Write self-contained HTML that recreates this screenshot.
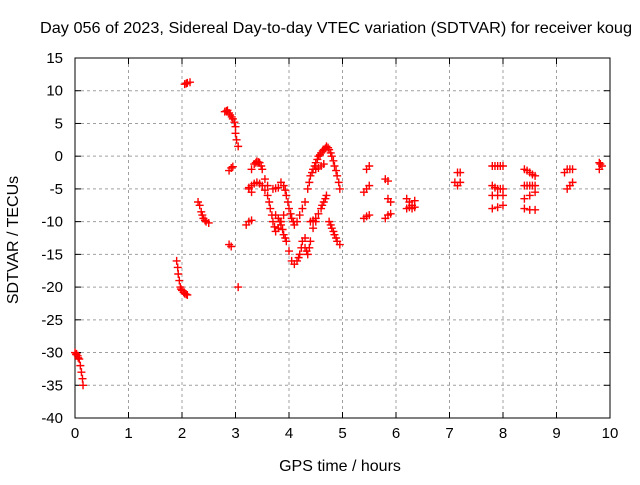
<!DOCTYPE html>
<html><head><meta charset="utf-8"><style>
body{margin:0;background:#fff}
svg text{font-family:"Liberation Sans",sans-serif;font-size:15px;fill:#000}
svg text.ttl{font-size:16px}
</style></head><body>
<svg id="chart" width="640" height="480" xmlns="http://www.w3.org/2000/svg">
<text class="ttl" x="40" y="33" textLength="592" lengthAdjust="spacingAndGlyphs">Day 056 of 2023, Sidereal Day-to-day VTEC variation (SDTVAR) for receiver koug</text>
<g id="grid"></g>
<g id="axes"></g>
<g id="pts"></g>
<text class="ttl" x="340" y="471" text-anchor="middle">GPS time / hours</text>
<text class="ttl" transform="translate(18,240) rotate(-90)" text-anchor="middle">SDTVAR / TECUs</text>
</svg>
<script>
const xTicks=[0,1,2,3,4,5,6,7,8,9,10];
const yTicks=[15,10,5,0,-5,-10,-15,-20,-25,-30,-35,-40];
const xs=[0,0.02,0.05,0.08,0.1,0.12,0.14,0.15,0.03,0.06,
1.9,1.92,1.93,1.95,1.97,2.0,2.05,2.1,1.98,2.03,2.08,
2.05,2.1,2.15,2.08,
2.3,2.33,2.36,2.4,2.45,2.5,2.38,2.43,
2.8,2.85,2.9,2.95,3.0,3.0,3.02,3.05,2.83,2.88,2.93,2.98,
2.88,2.92,2.95,2.88,2.92,3.05,
3.3,3.35,3.4,3.45,3.5,3.55,3.6,3.38,3.43,3.48,
3.25,3.3,3.4,3.5,3.6,3.65,3.7,3.75,3.8,3.85,3.9,3.35,3.45,3.55,3.63,3.68,3.73,
3.7,3.8,3.85,3.9,3.95,4.0,4.05,4.1,4.15,4.2,4.3,3.75,3.93,3.98,4.03,4.08,4.25,
3.75,3.8,3.85,3.9,3.95,4.05,4.1,4.15,4.2,4.25,4.3,3.83,3.88,3.93,4.0,4.18,4.23,
4.35,4.4,4.45,4.5,4.55,4.6,4.65,4.7,4.75,4.8,4.85,4.9,4.95,4.38,4.43,4.48,4.53,4.58,4.63,4.68,4.73,4.78,4.83,4.88,4.93,
4.4,4.5,4.6,4.65,4.7,4.5,4.6,4.45,4.55,4.62,4.68,4.55,4.65,
4.75,4.8,4.85,4.9,4.95,4.78,4.83,4.88,
4.3,4.35,4.4,4.45,4.5,4.33,4.38,
3.2,3.25,3.3,3.3,3.25,
5.4,5.45,5.5,5.4,5.45,5.5,5.45,5.5,
5.8,5.85,5.85,5.9,5.8,5.85,5.9,
6.2,6.25,6.3,6.2,6.3,6.35,6.35,6.25,
7.15,7.2,7.1,7.15,7.2,
7.8,7.9,8.0,7.8,7.9,8.0,7.8,7.9,8.0,7.8,7.9,8.0,7.85,7.95,7.85,7.95,
8.4,8.5,8.6,8.4,8.5,8.6,8.4,8.5,8.6,8.4,8.5,8.6,8.45,8.55,8.45,8.55,
9.15,9.2,9.3,9.2,9.25,9.3,9.25,
9.8,9.8,9.85,9.82];
const ys=[-30,-30.3,-30.5,-31,-32,-33,-34,-35,-30.2,-30.8,
-16,-17,-18,-19,-20,-20.5,-21,-21.2,-20.3,-20.8,-21.1,
11,11.2,11.3,11.1,
-7,-7.5,-8.5,-9.5,-10,-10.2,-9,-9.8,
6.8,7,6.3,5.7,4.5,3.5,2.5,1.5,6.9,6.6,6,5.2,
-2.2,-1.8,-1.6,-13.5,-13.8,-20,
-2,-1.2,-0.8,-1,-2,-3.5,-4.5,-1,-0.9,-1.5,
-5,-4.5,-4,-4.5,-6,-8,-10,-11.5,-11,-10,-9,-4.2,-4.2,-5.2,-7,-9,-10.8,
-5,-4.8,-4,-4.5,-6,-8,-9.5,-10.5,-10,-9,-7,-4.9,-5.2,-7,-8.8,-10,-8,
-9,-9.5,-10.5,-12,-13,-16,-16.5,-16,-15,-13,-12.5,-10,-11.2,-12.5,-14.5,-15.5,-14,
-5,-3,-2,-1,0,0.5,1,1.5,1,0,-1.5,-3,-5,-4,-2.5,-1.5,-0.5,0.2,0.8,1.2,1.3,0.5,-0.7,-2.2,-4,
-10,-9.5,-8,-7,-6,-2,-1.5,-9.8,-8.8,-7.5,-6.5,-1.8,-1.2,
-10,-11,-12,-13,-13.5,-10.5,-11.5,-12.5,
-14,-15,-13,-11,-10,-14.5,-14,
-10.5,-10,-9.8,-5.5,-4.8,
-9.5,-9.2,-9,-5.5,-5,-4.5,-2,-1.5,
-3.5,-3.8,-6.5,-7,-9.5,-9,-8.8,
-6.5,-7,-7.5,-8,-8,-7.8,-6.8,-7.8,
-2.5,-2.5,-4,-4.5,-4,
-1.5,-1.5,-1.5,-4.5,-5,-5,-6,-6,-6,-8,-7.8,-7.5,-1.5,-1.5,-4.8,-5,
-2,-2.5,-3,-4.5,-4.5,-4.5,-6.5,-6,-5.5,-8,-8.2,-8.2,-2.2,-2.8,-4.5,-4.5,
-2.5,-2,-2,-5,-4.5,-4,-2,
-1,-2,-1.5,-1.2];
const L=75,R=610,T=58,B=418;
const sx=v=>L+(v-0)/10*(R-L);
const sy=v=>T+(15-v)/55*(B-T);
const NS="http://www.w3.org/2000/svg";
const grid=document.getElementById('grid'),axes=document.getElementById('axes'),pts=document.getElementById('pts');
function mk(tag,attrs,parent){const e=document.createElementNS(NS,tag);for(const k in attrs)e.setAttribute(k,attrs[k]);parent.appendChild(e);return e;}
xTicks.forEach(t=>{
 const x=sx(t);
 if(t>0&&t<10){const g=mk('line',{x1:x,x2:x,y1:T,y2:B,stroke:'#a0a0a0','stroke-dasharray':'3,3'},grid);
 
 }
 mk('line',{x1:x,x2:x,y1:B,y2:B-6,stroke:'#000'},axes);
 mk('line',{x1:x,x2:x,y1:T,y2:T+6,stroke:'#000'},axes);
 const tx=mk('text',{x:x,y:B+20,'text-anchor':'middle'},axes);tx.textContent=t;
 
 
});
yTicks.forEach(t=>{
 const y=sy(t);
 if(t<15&&t>-40){const g=mk('line',{x1:L,x2:R,y1:y,y2:y,stroke:'#a0a0a0','stroke-dasharray':'3,3'},grid);
 
 }
 mk('line',{x1:L,x2:L+6,y1:y,y2:y,stroke:'#000'},axes);
 mk('line',{x1:R,x2:R-6,y1:y,y2:y,stroke:'#000'},axes);
 const tx=mk('text',{x:L-12,y:y+5,'text-anchor':'end'},axes);tx.textContent=t;
 
 
});
mk('rect',{x:L,y:T,width:R-L,height:B-T,fill:'none',stroke:'#000'},axes);
for(let i=0;i<xs.length;i++){
 const x=sx(xs[i]),y=sy(ys[i]);
 const p=mk('path',{d:`M${x-4},${y}H${x+4}M${x},${y-4}V${y+4}`,stroke:'#ff0000','stroke-width':1.4,fill:'none'},pts);
 
 
}
</script>
</body></html>
